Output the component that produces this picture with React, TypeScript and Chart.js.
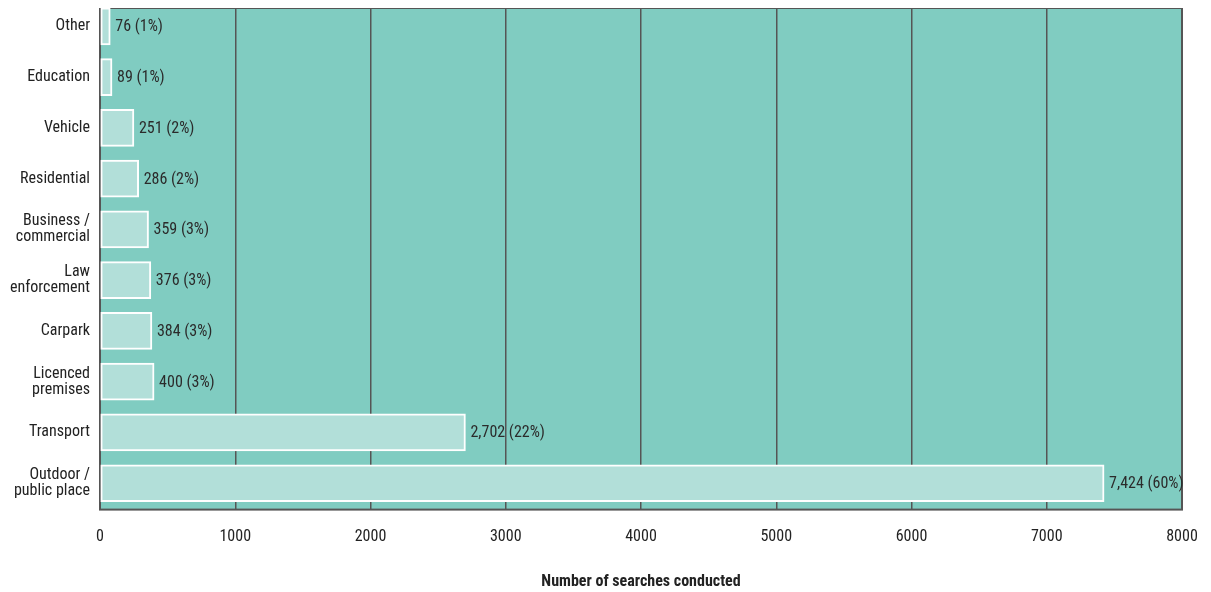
import React, { useEffect, useRef } from "react";
import { Chart, registerables } from "chart.js";

Chart.register(...registerables);

const categories: (string | string[])[] = [
  "Other",
  "Education",
  "Vehicle",
  "Residential",
  ["Business /", "commercial"],
  ["Law", "enforcement"],
  "Carpark",
  ["Licenced", "premises"],
  "Transport",
  ["Outdoor /", "public place"],
];
const searches = [76, 89, 251, 286, 359, 376, 384, 400, 2702, 7424];
const percents = [1, 1, 2, 2, 3, 3, 3, 3, 22, 60];
const xTicks = [0, 1000, 2000, 3000, 4000, 5000, 6000, 7000, 8000];

const FONT = "Roboto, 'Liberation Sans', Arial, sans-serif";
const PLOT_BG = "#80ccc1";
const BAR_FILL = "#b2dfd9";
const GRID = "#555555";
const TEXT = "#222222";

export default function App() {
  const ref = useRef<HTMLCanvasElement | null>(null);

  useEffect(() => {
    document.documentElement.style.overflow = "hidden";
    const canvas = ref.current;
    if (!canvas) return;

    const bgPlugin = {
      id: "plotBg",
      beforeDraw(chart: any) {
        const { ctx, chartArea: a } = chart;
        ctx.save();
        ctx.fillStyle = PLOT_BG;
        ctx.fillRect(a.left, a.top, a.right - a.left, a.bottom - a.top);
        ctx.restore();
      },
      beforeDatasetsDraw(chart: any) {
        const { ctx, chartArea: a } = chart;
        ctx.save();
        ctx.strokeStyle = GRID;
        ctx.lineWidth = 2;
        ctx.strokeRect(a.left, a.top, a.right - a.left, a.bottom - a.top);
        ctx.restore();
      },
    };

    const labelPlugin = {
      id: "valueLabels",
      afterDatasetsDraw(chart: any) {
        const { ctx } = chart;
        const meta = chart.getDatasetMeta(0);
        ctx.save();
        ctx.font = `condensed 16px ${FONT}`;
        ctx.fillStyle = "#2b2b2b";
        ctx.textAlign = "left";
        ctx.textBaseline = "middle";
        meta.data.forEach((bar: any, i: number) => {
          const txt = `${searches[i].toLocaleString("en-US")} (${percents[i]}%)`;
          ctx.fillText(txt, bar.x + 5, bar.y + 1);
        });
        ctx.restore();
      },
    };

    const chart = new Chart(canvas, {
      type: "bar",
      data: {
        datasets: [
          {
            data: searches.map((v, i) => ({ x: v, y: i })),
            backgroundColor: BAR_FILL,
            borderColor: "#ffffff",
            borderWidth: 2,
            borderSkipped: false,
            barThickness: 37,
          },
        ],
      },
      options: {
        indexAxis: "y",
        animation: false,
        responsive: true,
        maintainAspectRatio: false,
        layout: { padding: { top: 0, right: 21, left: 0, bottom: 0 } },
        plugins: {
          legend: { display: false },
          tooltip: { enabled: false },
        },
        scales: {
          x: {
            type: "linear",
            min: 0,
            max: 8000,
            afterBuildTicks: (scale: any) => {
              scale.ticks = xTicks.map((v) => ({ value: v }));
            },
            afterFit: (scale: any) => {
              scale.paddingLeft = 0;
              scale.paddingRight = 0;
            },
            grid: {
              color: GRID,
              lineWidth: 1.5,
              drawTicks: false,
            },
            border: { display: false },
            ticks: {
              padding: 18,
              color: TEXT,
              font: { family: FONT, size: 16, weight: "condensed" },
              callback: (v: any) => String(v),
            },
            title: {
              display: true,
              text: "Number of searches conducted",
              color: TEXT,
              font: { family: FONT, size: 16, weight: "condensed bold" },
              padding: { top: 8, bottom: 0 },
            },
          },
          y: {
            type: "linear",
            reverse: true,
            offset: false,
            min: -0.363,
            max: 9.52,
            afterBuildTicks: (scale: any) => {
              scale.ticks = categories.map((_, i) => ({ value: i }));
            },
            afterFit: (scale: any) => {
              scale.width = 92;
              scale.paddingTop = 0;
              scale.paddingBottom = 0;
            },
            grid: { display: false, drawTicks: false },
            border: { display: false },
            ticks: {
              padding: 10,
              autoSkip: false,
              color: TEXT,
              font: { family: FONT, size: 16, lineHeight: 1.0, weight: "condensed" },
              callback: (v: any) => {
                const i = Math.round(Number(v));
                return categories[i] ?? "";
              },
            },
          },
        },
      },
      plugins: [bgPlugin, labelPlugin],
    } as any);

    return () => chart.destroy();
  }, []);

  return (
    <div style={{ position: "relative", width: 1195, height: 584 }}>
      <canvas ref={ref} />
    </div>
  );
}
